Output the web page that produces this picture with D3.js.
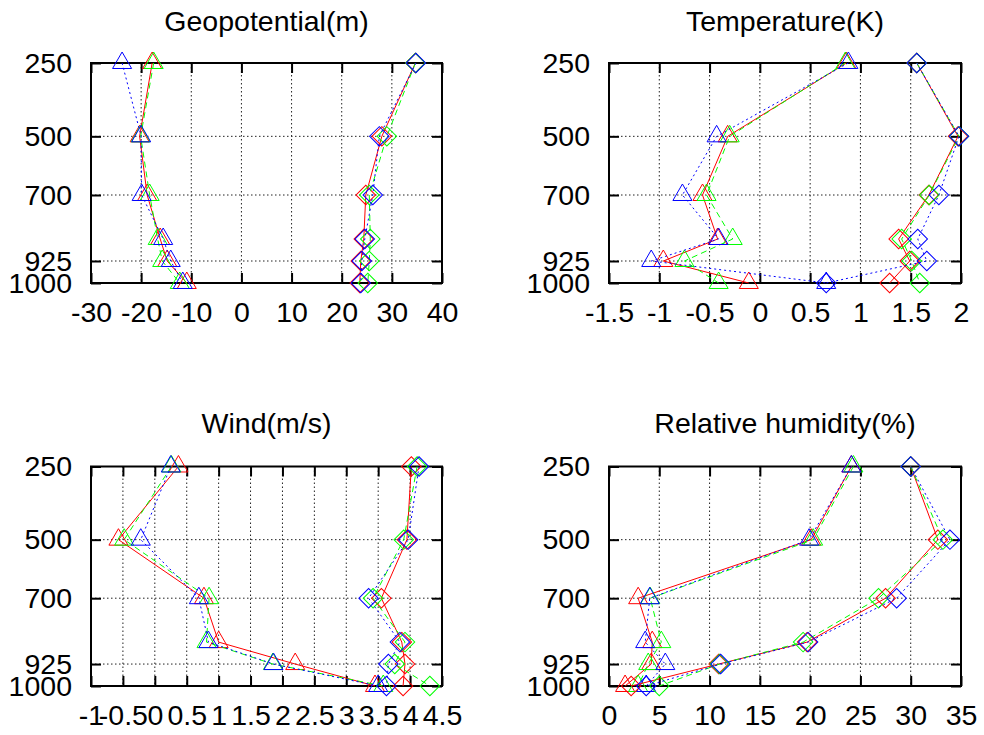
<!DOCTYPE html>
<html>
<head>
<meta charset="utf-8">
<script src="https://cdn.jsdelivr.net/npm/d3@7"></script>
<style>
  body { margin: 0; background: #fff; }
  svg text { font-family: "Liberation Sans", Arial, sans-serif; fill: #000; }
</style>
</head>
<body>
<svg id="chart" width="984" height="735"></svg>
<script>
// pressure levels (hPa), top to bottom
var levels = [250, 500, 700, 850, 925, 1000];
var yTicks = [250, 500, 700, 925, 1000];

// Geopotential(m)
var geoTicks = [-30, -20, -10, 0, 10, 20, 30, 40];
var geoTriRed   = [-17.8, -20.3, -18.8, -16.2, -14.8, -10.9];
var geoTriGreen = [-17.5, -20.1, -18.3, -16.7, -15.8, -12.3];
var geoTriBlue  = [-23.8, -20.0, -19.9, -15.6, -14.1, -11.7];
var geoDiaRed   = [34.7, 28.0, 24.8, 24.4, 23.8, 23.6];
var geoDiaGreen = [34.7, 29.0, 25.5, 25.7, 25.5, 25.2];
var geoDiaBlue  = [34.8, 27.5, 26.2, 24.6, 24.0, 23.8];

// Temperature(K)
var tempTicks = [-1.5, -1, -0.5, 0, 0.5, 1, 1.5, 2];
var tempTriRed   = [0.86, -0.32, -0.57, -0.42, -0.96, -0.11];
var tempTriGreen = [0.85, -0.30, -0.53, -0.27, -0.75, -0.41];
var tempTriBlue  = [0.88, -0.43, -0.77, -0.41, -1.08, 0.66];
var tempDiaRed   = [1.56, 1.97, 1.68, 1.38, 1.49, 1.29];
var tempDiaGreen = [1.56, 1.98, 1.685, 1.41, 1.51, 1.59];
var tempDiaBlue  = [1.56, 1.98, 1.78, 1.57, 1.66, 0.66];

// Wind(m/s)
var windTicks = [-1, -0.5, 0, 0.5, 1, 1.5, 2, 2.5, 3, 3.5, 4, 4.5];
var windTriRed   = [0.37, -0.57, 0.77, 1.0, 2.2, 3.45];
var windTriGreen = [0.26, -0.48, 0.85, 0.81, 1.85, 3.58];
var windTriBlue  = [0.25, -0.22, 0.69, 0.84, 1.86, 3.5];
var windDiaRed   = [4.02, 3.95, 3.55, 3.87, 3.92, 3.89];
var windDiaGreen = [4.11, 3.90, 3.42, 3.92, 3.76, 4.31];
var windDiaBlue  = [4.14, 3.97, 3.35, 3.84, 3.66, 3.63];

// Relative humidity(%)
var rhTicks = [0, 5, 10, 15, 20, 25, 30, 35];
var rhTriRed   = [24.1, 20.1, 2.9, 4.3, 4.2, 1.6];
var rhTriGreen = [24.3, 20.3, 4.1, 5.2, 3.9, 2.9];
var rhTriBlue  = [24.1, 19.9, 4.05, 3.6, 5.6, 3.7];
var rhDiaRed   = [30.0, 32.7, 27.5, 19.7, 10.9, 2.2];
var rhDiaGreen = [30.0, 33.2, 26.8, 19.3, 11.0, 5.0];
var rhDiaBlue  = [30.0, 33.9, 28.6, 19.8, 11.1, 3.7];

var styles = [
    {color: '#ff0000', dash: null},
    {color: '#00ff00', dash: '6,4'},
    {color: '#0000ff', dash: '2,3'}
];

var panels = [
    {title: 'Geopotential(m)', left: 91, right: 442, top: 63, bottom: 283,
     ticks: geoTicks, tri: [geoTriRed, geoTriGreen, geoTriBlue], dia: [geoDiaRed, geoDiaGreen, geoDiaBlue]},
    {title: 'Temperature(K)', left: 609, right: 961, top: 63, bottom: 283,
     ticks: tempTicks, tri: [tempTriRed, tempTriGreen, tempTriBlue], dia: [tempDiaRed, tempDiaGreen, tempDiaBlue]},
    {title: 'Wind(m/s)', left: 91, right: 442, top: 466.5, bottom: 686,
     ticks: windTicks, tri: [windTriRed, windTriGreen, windTriBlue], dia: [windDiaRed, windDiaGreen, windDiaBlue]},
    {title: 'Relative humidity(%)', left: 609, right: 961, top: 466.5, bottom: 686,
     ticks: rhTicks, tri: [rhTriRed, rhTriGreen, rhTriBlue], dia: [rhDiaRed, rhDiaGreen, rhDiaBlue]}
];

var FONT = '28.5px';
var svg = d3.select('svg#chart');
var triangle = d3.symbol().type(d3.symbolTriangle).size(157);
var diamond = d3.symbol().type(d3.symbolSquare).size(190);

panels.forEach(function(p) {
    var w = p.right - p.left, h = p.bottom - p.top;
    var x = d3.scaleLinear().domain(d3.extent(p.ticks)).range([0, w]);
    var y = d3.scaleLinear().domain([250, 1000]).range([0, h]);
    var g = svg.append('g').attr('transform', 'translate(' + p.left + ',' + p.top + ')');

    // title
    g.append('text')
        .attr('x', w / 2).attr('y', p.top < 100 ? 31 - p.top : 433 - p.top)
        .attr('text-anchor', 'middle')
        .style('font-size', FONT)
        .text(p.title);

    // dotted grid
    g.append('g').selectAll('line.gx')
        .data(p.ticks.slice(1, -1)).enter().append('line')
        .attr('x1', x).attr('x2', x).attr('y1', 0).attr('y2', h)
        .style('stroke', '#222').style('stroke-width', 1).style('stroke-dasharray', '1.5,2.5');
    g.append('g').selectAll('line.gy')
        .data(yTicks.slice(1, -1)).enter().append('line')
        .attr('y1', y).attr('y2', y).attr('x1', 0).attr('x2', w)
        .style('stroke', '#222').style('stroke-width', 1).style('stroke-dasharray', '1.5,2.5');

    // axes, ticks pointing inward on all four sides
    var plain = function(d) { return String(d); };
    var xAxis = d3.axisBottom(x).tickValues(p.ticks).tickSizeInner(-10).tickSizeOuter(0).tickPadding(18.5)
        .tickFormat(plain);
    var xTop = d3.axisTop(x).tickValues(p.ticks).tickSizeInner(-10).tickSizeOuter(0).tickFormat('');
    var yAxis = d3.axisLeft(y).tickValues(yTicks).tickSizeInner(-10).tickSizeOuter(0).tickPadding(19)
        .tickFormat(plain);
    var yRight = d3.axisRight(y).tickValues(yTicks).tickSizeInner(-10).tickSizeOuter(0).tickFormat('');

    var axes = [
        g.append('g').attr('transform', 'translate(0,' + h + ')').call(xAxis),
        g.append('g').call(xTop),
        g.append('g').call(yAxis),
        g.append('g').attr('transform', 'translate(' + w + ',0)').call(yRight)
    ];
    axes.forEach(function(a) {
        a.select('.domain').remove();
        a.selectAll('line').style('stroke', '#000').style('stroke-width', 2);
        a.selectAll('text').style('font-size', FONT).attr('fill', '#000')
            .style('font-family', '"Liberation Sans", Arial, sans-serif');
    });

    g.append('rect').attr('width', w).attr('height', h)
        .style('fill', 'none').style('stroke', '#000').style('stroke-width', 2);

    var line = d3.line()
        .x(function(d) { return x(d[0]); })
        .y(function(d) { return y(d[1]); });

    [['tri', triangle, 0], ['dia', diamond, 45]].forEach(function(kind) {
        p[kind[0]].forEach(function(vals, i) {
            var pts = vals.map(function(v, j) { return [v, levels[j]]; });
            var st = styles[i];
            g.append('path')
                .attr('d', line(pts))
                .style('fill', 'none').style('stroke', st.color).style('stroke-width', 1)
                .style('stroke-dasharray', st.dash);
            g.append('g').selectAll('path')
                .data(pts).enter().append('path')
                .attr('d', kind[1])
                .attr('transform', function(d) {
                    return 'translate(' + x(d[0]) + ',' + y(d[1]) + ') rotate(' + kind[2] + ')';
                })
                .style('fill', 'none').style('stroke', st.color).style('stroke-width', 1);
        });
    });
});
</script>
</body>
</html>
